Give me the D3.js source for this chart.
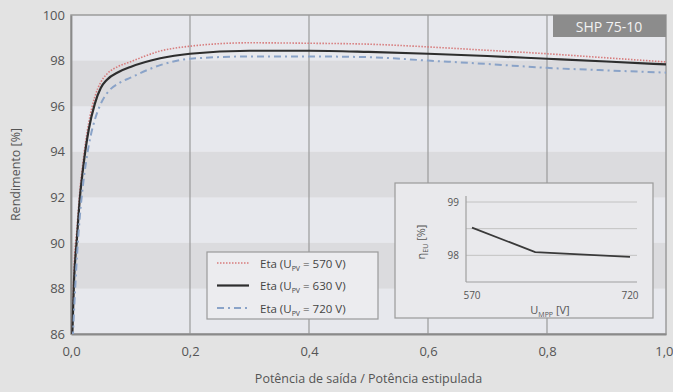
<!DOCTYPE html>
<html>
<head>
<meta charset="utf-8">
<script src="https://cdn.jsdelivr.net/npm/d3@7"></script>
<style>
  html, body { margin: 0; padding: 0; background: #e3e3e3; }
  svg { display: block; font-family: "Open Sans", "DejaVu Sans", sans-serif; }
</style>
</head>
<body>
<svg id="chart" width="673" height="392"></svg>
<script>
// Efficiency curves for the SHP 75-10 inverter at three input voltages
const load = [0.002, 0.005, 0.01, 0.015, 0.02, 0.025, 0.03, 0.04, 0.05, 0.06, 0.08, 0.1, 0.15, 0.2, 0.3, 0.4, 0.5, 0.6, 0.7, 0.8, 0.9, 1.0];
const eta570 = [86.0, 88.8, 90.6, 92.3, 93.5, 94.5, 95.3, 96.4, 97.05, 97.4, 97.75, 97.95, 98.42, 98.63, 98.78, 98.76, 98.72, 98.6, 98.45, 98.3, 98.12, 97.94];
const eta630 = [85.8, 88.3, 90.2, 92.0, 93.2, 94.2, 95.0, 96.1, 96.8, 97.15, 97.5, 97.72, 98.1, 98.3, 98.43, 98.43, 98.38, 98.3, 98.2, 98.08, 97.96, 97.83];
const load720 = [0.003, 0.007, 0.01, 0.015, 0.02, 0.025, 0.03, 0.04, 0.05, 0.06, 0.08, 0.1, 0.15, 0.2, 0.3, 0.4, 0.5, 0.6, 0.7, 0.8, 0.9, 1.0];
const eta720 = [85.8, 88.0, 89.4, 91.2, 92.5, 93.5, 94.3, 95.4, 96.1, 96.55, 97.0, 97.25, 97.8, 98.08, 98.18, 98.18, 98.15, 98.0, 97.85, 97.68, 97.57, 97.47];

const xTicks = [0, 0.2, 0.4, 0.6, 0.8, 1.0];
const yTicks = [86, 88, 90, 92, 94, 96, 98, 100];
const legendLabels = ["570 V", "630 V", "720 V"];

// European efficiency versus MPP voltage
const uMpp = [570, 630, 720];
const etaEU = [98.52, 98.06, 97.97];
const insetYTicks = [98, 99];
const insetGrid = [98, 98.5, 99];

const svg = d3.select("#chart");
const m = { left: 71, right: 666, top: 15, bottom: 334 };

const x = d3.scaleLinear().domain([0, 1]).range([m.left, m.right]);
const y = d3.scaleLinear().domain([86, 100]).range([m.bottom, m.top]);

// alternating horizontal bands
const bands = d3.range(86, 100, 2);
svg.append("g").selectAll("rect").data(bands).join("rect")
  .attr("x", m.left).attr("width", m.right - m.left)
  .attr("y", d => y(d + 2)).attr("height", d => y(d) - y(d + 2))
  .attr("fill", d => ((d - 86) / 2) % 2 === 1 ? "#dbdbde" : "#e7e8ed");

// vertical grid lines
svg.append("g").selectAll("line").data(xTicks.slice(1, -1)).join("line")
  .attr("x1", d => x(d)).attr("x2", d => x(d))
  .attr("y1", m.top).attr("y2", m.bottom)
  .attr("stroke", "#9a9a9a").attr("stroke-width", 1.2);

// plot frame
svg.append("rect")
  .attr("x", m.left).attr("y", m.top)
  .attr("width", m.right - m.left).attr("height", m.bottom - m.top)
  .attr("fill", "none").attr("stroke", "#9c9c9c").attr("stroke-width", 1.5);

// axes
const fmt = d => d3.format(".1f")(d).replace(".", ",");
const xAxis = svg.append("g").attr("transform", `translate(0,${m.bottom})`)
  .call(d3.axisBottom(x).tickValues(xTicks).tickFormat(fmt).tickSize(0).tickPadding(10));
const yAxis = svg.append("g").attr("transform", `translate(${m.left},0)`)
  .call(d3.axisLeft(y).tickValues(yTicks).tickSize(0).tickPadding(6));
[xAxis, yAxis].forEach(a => {
  a.select(".domain").attr("stroke", "#8a8a8a").attr("stroke-width", 1.8);
  a.selectAll("text").attr("fill", "#555").attr("font-size", 13).attr("font-family", "\"Open Sans\", sans-serif");
});
xAxis.selectAll("text").attr("dy", "0.9em");
// keep the last tick label inside the page
xAxis.selectAll(".tick").filter(d => d === 1).select("text")
  .attr("text-anchor", "end").attr("dx", 7);

svg.append("text")
  .attr("transform", `translate(20,${(m.top + m.bottom) / 2}) rotate(-90)`)
  .attr("text-anchor", "middle").attr("fill", "#555").attr("font-size", 12.5)
  .text("Rendimento [%]");
svg.append("text")
  .attr("x", x(0.5)).attr("y", 383)
  .attr("text-anchor", "middle").attr("fill", "#555").attr("font-size", 12.5)
  .text("Potência de saída / Potência estipulada");

// curves
const series = [
  { xs: load, ys: eta570, color: "#d77b7c", width: 1.6, dash: "1.5,1.5" },
  { xs: load, ys: eta630, color: "#2e2e2e", width: 2.2, dash: null },
  { xs: load720, ys: eta720, color: "#8aa3c8", width: 2, dash: "7,4,2,4" }
];
const line = d3.line().curve(d3.curveMonotoneX).x(d => x(d[0])).y(d => y(d[1]));
svg.append("clipPath").attr("id", "plotClip").append("rect")
  .attr("x", m.left).attr("y", m.top).attr("width", m.right - m.left).attr("height", m.bottom - m.top);
const curves = svg.append("g").attr("clip-path", "url(#plotClip)");
series.forEach(s => {
  curves.append("path")
    .datum(d3.zip(s.xs, s.ys))
    .attr("d", line)
    .attr("fill", "none").attr("stroke", s.color).attr("stroke-width", s.width)
    .attr("stroke-dasharray", s.dash);
});

// model label
svg.append("rect").attr("x", 553).attr("y", 15).attr("width", 113).attr("height", 22).attr("fill", "#8c8c8c");
svg.append("text").attr("x", 609).attr("y", 32).attr("text-anchor", "middle")
  .attr("fill", "#f2f2f2").attr("font-size", 14).text("SHP 75-10");

// legend
const lg = svg.append("g");
lg.append("rect").attr("x", 207).attr("y", 252).attr("width", 171).attr("height", 67)
  .attr("fill", "#ececef").attr("stroke", "#9a9a9a").attr("stroke-width", 1.2);
series.forEach((s, i) => {
  const yy = 263 + i * 22.5;
  lg.append("line").attr("x1", 217).attr("x2", 249).attr("y1", yy).attr("y2", yy)
    .attr("stroke", s.color).attr("stroke-width", s.width).attr("stroke-dasharray", s.dash);
  const t = lg.append("text").attr("x", 260).attr("y", yy + 4.5).attr("fill", "#444").attr("font-size", 11.5);
  t.append("tspan").text("Eta (U");
  t.append("tspan").attr("font-size", 7).attr("dy", 3).text("PV");
  t.append("tspan").attr("dy", -3).text(` = ${legendLabels[i]})`);
});

// inset: European efficiency
const ins = svg.append("g");
ins.append("rect").attr("x", 395).attr("y", 183).attr("width", 258).attr("height", 135)
  .attr("fill", "#e9e9ec").attr("stroke", "#9a9a9a").attr("stroke-width", 1.2);
const ix = d3.scaleLinear().domain([570, 720]).range([472, 630]);
const iy = d3.scaleLinear().domain([97.5, 99]).range([282, 202]);
ins.append("g").selectAll("line").data(insetGrid).join("line")
  .attr("x1", 466).attr("x2", 637).attr("y1", d => iy(d)).attr("y2", d => iy(d))
  .attr("stroke", "#c2c2c2").attr("stroke-width", 1);
ins.append("line").attr("x1", 466).attr("x2", 637).attr("y1", 282).attr("y2", 282)
  .attr("stroke", "#a0a0a0").attr("stroke-width", 1.2);
ins.append("line").attr("x1", 466).attr("x2", 466).attr("y1", 196).attr("y2", 282)
  .attr("stroke", "#a0a0a0").attr("stroke-width", 1.2);
ins.append("g").selectAll("text").data(insetYTicks).join("text")
  .attr("x", 459).attr("y", d => iy(d) + 4).attr("text-anchor", "end")
  .attr("fill", "#555").attr("font-size", 10).text(d => d);
ins.append("g").selectAll("text").data([570, 720]).join("text")
  .attr("x", d => ix(d)).attr("y", 299).attr("text-anchor", "middle")
  .attr("fill", "#555").attr("font-size", 10).text(d => d);
ins.append("path")
  .datum(d3.zip(uMpp, etaEU))
  .attr("d", d3.line().x(d => ix(d[0])).y(d => iy(d[1])))
  .attr("fill", "none").attr("stroke", "#3a3a3a").attr("stroke-width", 1.8);
const iyl = ins.append("text").attr("transform", "translate(425,242) rotate(-90)")
  .attr("text-anchor", "middle").attr("fill", "#555").attr("font-size", 11);
iyl.append("tspan").text("η");
iyl.append("tspan").attr("font-size", 7).attr("dy", 3).text("EU");
iyl.append("tspan").attr("dy", -3).text(" [%]");
const ixl = ins.append("text").attr("x", 550).attr("y", 314)
  .attr("text-anchor", "middle").attr("fill", "#555").attr("font-size", 11);
ixl.append("tspan").text("U");
ixl.append("tspan").attr("font-size", 7).attr("dy", 3).text("MPP");
ixl.append("tspan").attr("dy", -3).text(" [V]");
</script>
</body>
</html>
